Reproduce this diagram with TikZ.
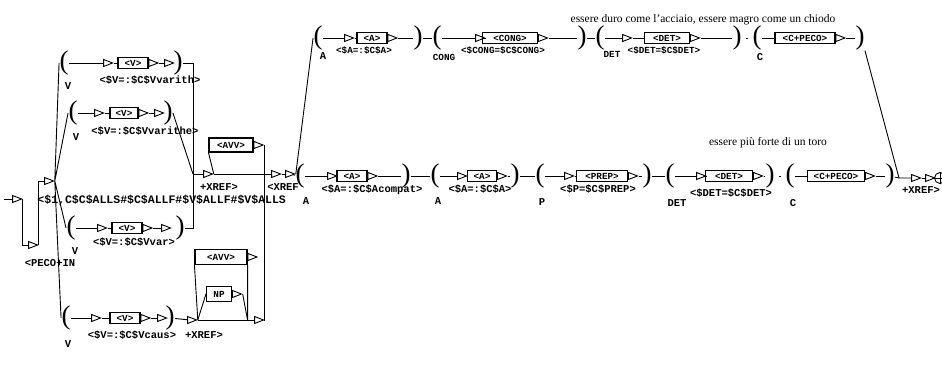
\documentclass[tikz,border=0pt]{standalone}
\usepackage{fontspec}
\setmainfont{Liberation Serif}
\setmonofont{Liberation Mono}
\usetikzlibrary{shapes.geometric}
\newcommand\lab{\ttfamily\bfseries\fontsize{10.5}{10.5}\selectfont}
\newcommand\labs{\ttfamily\bfseries\fontsize{9.3}{9.3}\selectfont}
\newcommand\parfnt{\fontsize{27}{27}\selectfont}

\begin{document}
\begin{tikzpicture}[x=1pt,y=-1pt,line width=0.9pt,
  box/.style={draw,line width=1.1pt,font=\labs,inner xsep=4pt,inner ysep=1.5pt,minimum height=11pt},
  tri/.style={draw,fill=white,isosceles triangle,isosceles triangle stretches,inner sep=0pt,minimum width=7pt,minimum height=9pt},
  outm/.style={tri,anchor=west},
  par/.style={font=\parfnt,inner sep=0pt},
  lab/.style={font=\lab,inner sep=0pt},
  labs/.style={font=\labs,inner sep=0pt},
  txt/.style={font=\fontsize{11.5}{11.5}\selectfont,inner sep=0pt}]
\useasboundingbox (0,0) rectangle (942,371);

% start, PECO+IN
\coordinate (s0) at (4,199);
\node[tri] (i0) at (15,199) {};
\node[tri] (tPI) at (31,245) {};
\node[lab] (lPI) at (50,263) {<PECO+IN};
\node[tri] (tF) at (47,181) {};
\node[lab,anchor=west,font=\ttfamily\bfseries\fontsize{11.5}{11.5}\selectfont] (lF) at (37,200) {<\$1,C\$C\$ALLS\#\$C\$ALLF\#\$V\$ALLF\#\$V\$ALLS};
\draw (s0) -- (i0);
\draw (i0.east) |- (tPI);
\draw (tPI.east) |- (tF);

% the four V paths
\node[par] (pV1) at (64,63) {(};
\node[lab] (vV1) at (68,86) {V};
\node[tri] (tV1) at (106,63) {};
\node[box,minimum width=30pt] (bV1) at (133,63) {<V>};
\node[outm] (oV1) at (bV1.east) {};
\node[tri] (sV1) at (167,63) {};
\node[par] (qV1) at (178,63) {)};
\node[lab] (lV1) at (150,80) {<\$V=:\$C\$Vvarith>};

\node[par] (pV2) at (73,113) {(};
\node[lab] (vV2) at (76,137) {V};
\node[tri] (tV2) at (97,113) {};
\node[box,minimum width=28pt] (bV2) at (124,113) {<V>};
\node[outm] (oV2) at (bV2.east) {};
\node[tri] (sV2) at (157,113) {};
\node[par] (qV2) at (168,113) {)};
\node[lab] (lV2) at (145,131) {<\$V=:\$C\$Vvarithe>};

\node[par] (pV3) at (71,228) {(};
\node[lab] (vV3) at (75,251) {V};
\node[tri] (tV3) at (100,228) {};
\node[box,minimum width=30pt] (bV3) at (127,228) {<V>};
\node[outm] (oV3) at (bV3.east) {};
\node[tri] (sV3) at (164,228) {};
\node[par] (qV3) at (180,228) {)};
\node[lab] (lV3) at (134,242) {<\$V=:\$C\$Vvar>};

\node[par] (pV4) at (66,318) {(};
\node[lab] (vV4) at (68,344) {V};
\node[tri] (tV4) at (94,318) {};
\node[box,minimum width=30pt] (bV4) at (125,318) {<V>};
\node[outm] (oV4) at (bV4.east) {};
\node[tri] (sV4) at (160,318) {};
\node[par] (qV4) at (170,318) {)};
\node[lab] (lV4) at (132,335) {<\$V=:\$C\$Vcaus>};

\draw (tF.east) -- (pV1.west) (tF.east) -- (pV2.west)
      (tF.east) -- (pV3.west) (tF.east) -- (pV4.west);
\draw (pV1) -- (tV1) (tV1) -- (bV1) (oV1) -- (sV1);
\draw (pV2) -- (tV2) (tV2) -- (bV2) (oV2) -- (sV2);
\draw (pV3) -- (tV3) (tV3) -- (bV3) (oV3) -- (sV3);
\draw (pV4) -- (tV4) (tV4) -- (bV4) (oV4) -- (sV4);

% merge and XREF
\coordinate (m) at (193,174);
\draw (qV1.east) -| (m);
\draw (qV2.east) -- (m);
\draw (qV3.east) -| (m);
\node[tri] (tX1) at (206,174) {};
\node[lab] (lX1) at (219,187) {+XREF>};
\node[box,minimum width=44pt,minimum height=14pt] (bAV1) at (231,145) {<AVV>};
\node[outm] (oAV1) at (bAV1.east) {};
\coordinate (j) at (oAV1.east |- tX1.center);
\node[tri] (tX2) at (274,174) {};
\node[tri] (tX3) at (288,174) {};
\node[lab] (lX3) at (283,187) {<XREF};
\draw (m) -- (tX1) (tX1) -- (tX2) (tX2) -- (tX3);
\draw (tX1.east) -- (bAV1.south west);
\draw (oAV1.east) -- (j);

% AVV / NP loop
\node[tri] (tB1) at (190,320) {};
\node[lab] (lB1) at (204,335) {+XREF>};
\node[box,minimum width=52pt,minimum height=15pt] (bAV2) at (221,257) {<AVV>};
\node[outm] (oAV2) at (bAV2.east) {};
\node[box,minimum width=25pt,minimum height=15pt] (bNP) at (219,294) {NP};
\node[outm] (oNP) at (bNP.east) {};
\node[tri] (tB2) at (257,320) {};
\coordinate (k) at (bAV2.south east |- tB1.center);
\draw (qV4) -- (tB1);
\draw (tB1) -- (tB2);
\draw (tB1.east) -- (bAV2.south west);
\draw (tB1.east) -- (bNP.west);
\draw (oNP.east) -- (k) (bAV2.south east) -- (k);
\draw (tB2.east) -| (j);

% row: essere piu forte di un toro
\node[txt] (tx2) at (768,143) {essere più forte di un toro};
\node[par] (pA1) at (300,176) {(};
\node[lab] (vA1) at (306,201) {A};
\node[tri] (tA1) at (330,176) {};
\node[box,minimum width=30pt] (bA1) at (352,176) {<A>};
\node[outm] (oA1) at (bA1.east) {};
\node[par] (qA1) at (406,176) {)};
\node[lab] (lA1) at (372,190) {<\$A=:\$C\$Acompat>};

\node[par] (pA2) at (435,176) {(};
\node[lab] (vA2) at (438,201) {A};
\node[tri] (tA2) at (460,176) {};
\node[box,minimum width=29pt] (bA2) at (482,176) {<A>};
\node[outm] (oA2) at (bA2.east) {};
\node[par] (qA2) at (515,176) {)};
\node[lab] (lA2) at (480,189) {<\$A=:\$C\$A>};

\node[par] (pA3) at (540,176) {(};
\node[lab] (vA3) at (542,202) {P};
\node[tri] (tA3) at (567,176) {};
\node[box,minimum width=51pt] (bA3) at (602,176) {<PREP>};
\node[outm] (oA3) at (bA3.east) {};
\node[par] (qA3) at (647,176) {)};
\node[lab] (lA3) at (598,189) {<\$P=\$C\$PREP>};

\node[par] (pA4) at (670,176) {(};
\node[lab] (vA4) at (677,203) {DET};
\node[tri] (tA4) at (699,176) {};
\node[box,minimum width=47pt] (bA4) at (729,176) {<DET>};
\node[outm] (oA4) at (bA4.east) {};
\node[par] (qA4) at (770,176) {)};
\node[lab] (lA4) at (731,193) {<\$DET=\$C\$DET>};

\node[par] (pA5) at (790,176) {(};
\node[lab] (vA5) at (793,203) {C};
\node[box,minimum width=57pt] (bA5) at (836,176) {<C+PECO>};
\node[outm] (oA5) at (bA5.east) {};
\node[par] (qA5) at (890,176) {)};

\draw (tX3) -- (pA1);
\draw (pA1) -- (tA1) (tA1) -- (bA1) (oA1) -- (qA1);
\draw (pA2) -- (tA2) (tA2) -- (bA2) (oA2) -- (qA2);
\draw (pA3) -- (tA3) (tA3) -- (bA3) (oA3) -- (qA3);
\draw (pA4) -- (tA4) (tA4) -- (bA4) (oA4) -- (qA4);
\draw (pA5) -- (bA5) (oA5) -- (qA5);
\draw[shorten <=4pt,shorten >=4pt] (qA1) -- (pA2) (qA2) -- (pA3) (qA3) -- (pA4) (qA4) -- (pA5);

% row: essere duro come l'acciaio
\node[txt] (tx1) at (703,20) {essere duro come l'acciaio, essere magro come un chiodo};
\node[par] (pT1) at (318,38) {(};
\node[lab] (vT1) at (323,56) {A};
\node[tri] (tT1) at (347,38) {};
\node[box,minimum width=30pt] (bT1) at (372,38) {<A>};
\node[outm] (oT1) at (bT1.east) {};
\node[par] (qT1) at (418,38) {)};
\node[labs] (lT1) at (364,50) {<\$A=:\$C\$A>};

\node[par] (pT2) at (437,38) {(};
\node[labs] (vT2) at (444,57) {CONG};
\node[tri] (tT2) at (478,38) {};
\node[box,minimum width=55pt] (bT2) at (510,38) {<CONG>};
\node[outm] (oT2) at (bT2.east) {};
\node[par] (qT2) at (582,38) {)};
\node[labs] (lT2) at (503,50) {<\$CONG=\$C\$CONG>};

\node[par] (pT3) at (600,38) {(};
\node[labs] (vT3) at (612,54) {DET};
\node[tri] (tT3) at (625,38) {};
\node[box,minimum width=45pt] (bT3) at (667,38) {<DET>};
\node[outm] (oT3) at (bT3.east) {};
\node[par] (qT3) at (737,38) {)};
\node[labs] (lT3) at (664,50) {<\$DET=\$C\$DET>};

\node[par] (pT4) at (757,38) {(};
\node[lab] (vT4) at (760,57) {C};
\node[box,minimum width=60pt] (bT4) at (805,38) {<C+PECO>};
\node[outm] (oT4) at (bT4.east) {};
\node[par] (qT4) at (860,38) {)};

\draw (tX3.east) -- (pT1.west);
\draw (pT1) -- (tT1) (tT1) -- (bT1) (oT1) -- (qT1);
\draw (pT2) -- (tT2) (tT2) -- (bT2) (oT2) -- (qT2);
\draw (pT3) -- (tT3) (tT3) -- (bT3) (oT3) -- (qT3);
\draw (pT4) -- (bT4) (oT4) -- (qT4);
\draw[shorten <=4pt,shorten >=4pt] (qT1) -- (pT2) (qT2) -- (pT3) (qT3) -- (pT4);

% end
\coordinate (f) at (899,178);
\node[tri] (tE1) at (914,178) {};
\node[tri] (tE2) at (928,178) {};
\node[lab] (lE2) at (921,190) {+XREF>};
\node[draw,circle,inner sep=0pt,minimum size=11pt] (fin) at (940,178) {};
\draw (qT4.south east) -- (f) -- (tE1);
\draw (qA5) -- (f);
\draw (tE1) -- (tE2) (tE2) -- (fin);
\draw (fin.north) -- (fin.south) (fin.west) -- (fin.east);
\end{tikzpicture}
\end{document}
